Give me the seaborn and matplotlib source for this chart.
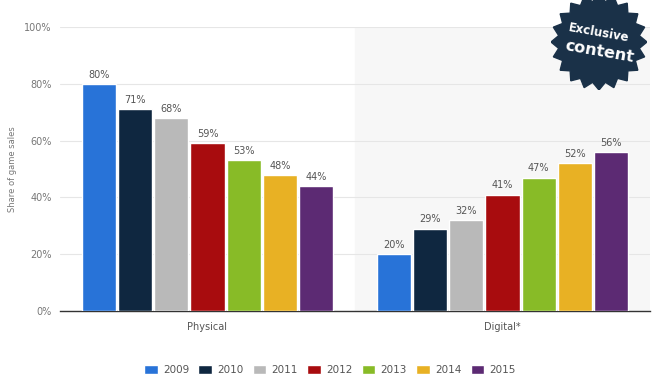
import numpy as np
import pandas as pd
import matplotlib
matplotlib.use("Agg")
import matplotlib.pyplot as plt
from matplotlib.patches import Polygon
import seaborn as sns

# data
categories = ["Physical", "Digital*"]
years = ["2009", "2010", "2011", "2012", "2013", "2014", "2015"]
physical = [80, 71, 68, 59, 53, 48, 44]
digital = [20, 29, 32, 41, 47, 52, 56]
colors = ["#2873d8", "#0f2740", "#b9b9b9", "#a80c0e", "#88bb27", "#e8b124", "#5c2a73"]

df = pd.DataFrame({
    "category": [categories[0]] * len(years) + [categories[1]] * len(years),
    "year": years + years,
    "share": physical + digital,
})

sns.set_style("white")
plt.rcParams["font.family"] = ["DejaVu Sans"]

fig = plt.figure(figsize=(6.6, 3.86), dpi=100)
ax = fig.add_axes([60 / 660, 1 - 311 / 386, 590 / 660, 284 / 386])

# light background behind the second group
ax.axvspan(0.5, 1.5, color="#f7f7f7", zorder=0)

sns.barplot(data=df, x="category", y="share", hue="year", palette=colors,
            width=0.86, gap=0.05, ax=ax, legend=True, zorder=3, saturation=1)

for cont in ax.containers:
    ax.bar_label(cont, labels=[f"{v:.0f}%" for v in cont.datavalues],
                 padding=3, fontsize=7, color="#555555")

ax.set_ylim(0, 100)
ax.set_xlim(-0.5, 1.5)
ax.set_yticks(range(0, 101, 20))
ax.set_yticklabels([f"{t}%" for t in range(0, 101, 20)], fontsize=7, color="#777777")
ax.tick_params(axis="x", length=0, labelsize=7, labelcolor="#555555", pad=8)
ax.tick_params(axis="y", length=0, pad=6)
ax.yaxis.grid(True, color="#e6e6e6", linewidth=0.8, zorder=0)
ax.set_axisbelow(True)
ax.set_xlabel("")
ax.set_ylabel("Share of game sales", fontsize=6, color="#777777")
ax.yaxis.set_label_coords(-(60 - 17) / 590, 0.5)
for side in ["top", "right", "left"]:
    ax.spines[side].set_visible(False)
ax.spines["bottom"].set_color("#333333")
ax.spines["bottom"].set_linewidth(1)

handles, labels = ax.get_legend_handles_labels()
ax.get_legend().remove()
fig.legend(handles, labels, loc="center", bbox_to_anchor=(330 / 660, 1 - 370 / 386),
           ncol=7, frameon=False, fontsize=7.5, handlelength=1.3, handleheight=1.0,
           columnspacing=0.9, handletextpad=0.5, labelcolor="#555555")

# "Exclusive content" badge
bax = fig.add_axes([551 / 660, 1 - 90 / 386, 96 / 660, 96 / 386])
bax.set_xlim(-1, 1)
bax.set_ylim(-1, 1)
bax.set_aspect("equal")
bax.axis("off")
n = 20
ang = np.linspace(0, 2 * np.pi, 2 * n, endpoint=False) + np.pi / 2
rad = np.where(np.arange(2 * n) % 2 == 0, 1.0, 0.85)
bax.add_patch(Polygon(np.c_[rad * np.cos(ang), rad * np.sin(ang)],
                      closed=True, color="#1a3148"))
bax.text(0.0, 0.2, "Exclusive", color="white", fontsize=8.5, fontweight="bold",
         ha="center", va="center", rotation=-10)
bax.text(0.02, -0.2, "content", color="white", fontsize=11.5, fontweight="bold",
         ha="center", va="center", rotation=-10)

fig.savefig("out.png", dpi=100)
